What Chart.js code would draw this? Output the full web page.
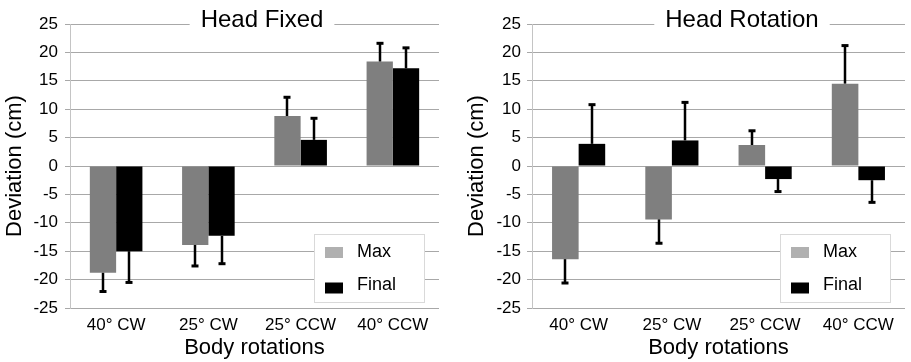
<!DOCTYPE html>
<html>
<head>
<meta charset="utf-8">
<script src="https://cdn.jsdelivr.net/npm/chart.js@4.4.1/dist/chart.umd.min.js"></script>
<style>
  html, body { margin: 0; padding: 0; background: #fff; }
  #wrap { position: relative; width: 911px; height: 362px; overflow: hidden; }
  .panel { position: absolute; top: 0; }
</style>
</head>
<body>
<div id="wrap">
  <div class="panel" style="left:0px"><canvas id="c1" width="455" height="362"></canvas></div>
  <div class="panel" style="left:455px"><canvas id="c2" width="456" height="362"></canvas></div>
</div>
<script>
// ---- Data ----
const categories = ['40° CW', '25° CW', '25° CCW', '40° CCW'];
const seriesNames = ['Max', 'Final'];
const yTickMin = -25;
const yTickMax = 25;
const yTickStep = 5;

// Head Fixed
const fixedMax = [-18.8, -13.9, 8.8, 18.4];
const fixedMaxErr = [3.3, 3.7, 3.3, 3.2];
const fixedFinal = [-15.0, -12.3, 4.6, 17.2];
const fixedFinalErr = [5.5, 4.9, 3.8, 3.6];

// Head Rotation
const rotMax = [-16.4, -9.4, 3.7, 14.5];
const rotMaxErr = [4.2, 4.2, 2.5, 6.7];
const rotFinal = [3.9, 4.5, -2.3, -2.5];
const rotFinalErr = [6.9, 6.7, 2.2, 3.9];

const FONT = '"Liberation Sans", Arial, Helvetica, sans-serif';
const MAX_COLOR = '#7f7f7f';
const MAX_LEGEND = '#b0b0b0';
const FINAL_COLOR = '#000000';

// Error bars (one-sided, away from zero)
const errorBarPlugin = {
  id: 'errorBars',
  afterDatasetsDraw(chart) {
    const ctx = chart.ctx;
    const y = chart.scales.y;
    ctx.save();
    ctx.strokeStyle = '#000';
    chart.data.datasets.forEach((ds, i) => {
      const meta = chart.getDatasetMeta(i);
      meta.data.forEach((el, j) => {
        const v = ds.data[j];
        const e = ds.errors[j];
        const end = v + (v >= 0 ? e : -e);
        const y1 = y.getPixelForValue(v);
        const y2 = y.getPixelForValue(end);
        const x = Math.round(el.x);
        ctx.lineWidth = 2.5;
        ctx.beginPath();
        ctx.moveTo(x, y1);
        ctx.lineTo(x, y2);
        ctx.stroke();
        ctx.lineWidth = 3;
        ctx.beginPath();
        ctx.moveTo(x - 3.5, y2);
        ctx.lineTo(x + 3.5, y2);
        ctx.stroke();
      });
    });
    ctx.restore();
  }
};

// Title sitting on the top gridline, and boxed legend inside plot area
const decorPlugin = {
  id: 'decor',
  afterDraw(chart, args, opts) {
    const ctx = chart.ctx;
    const area = chart.chartArea;
    ctx.save();
    // Title
    ctx.font = '24px ' + FONT;
    const w = ctx.measureText(opts.title).width;
    ctx.fillStyle = '#fff';
    ctx.fillRect(opts.titleX - w / 2 - 11, area.top - 3, w + 22, 6);
    ctx.fillStyle = '#000';
    ctx.textAlign = 'center';
    ctx.textBaseline = 'alphabetic';
    ctx.fillText(opts.title, opts.titleX, 26.5);

    // Legend
    const bw = 111, bh = 69;
    const bx = area.right - 14 - bw;
    const by = area.bottom - 5 - bh;
    ctx.fillStyle = '#fff';
    ctx.fillRect(bx, by, bw, bh);
    ctx.strokeStyle = '#d9d9d9';
    ctx.lineWidth = 1;
    ctx.strokeRect(bx + 0.5, by + 0.5, bw - 1, bh - 1);
    const swatches = [MAX_LEGEND, FINAL_COLOR];
    const swY = [13, 48.5];
    const txY = [18, 51.5];
    ctx.font = '18px ' + FONT;
    ctx.textAlign = 'left';
    ctx.textBaseline = 'middle';
    seriesNames.forEach((name, k) => {
      ctx.fillStyle = swatches[k];
      ctx.fillRect(bx + 11, by + swY[k], 18, 11);
      ctx.fillStyle = '#000';
      ctx.fillText(name, bx + 43, by + txY[k]);
    });
    ctx.restore();
  }
};

function makeChart(id, maxVals, maxErr, finalVals, finalErr, title, titleX, yWidth, rightPad, tickPad, yTitlePad) {
  return new Chart(document.getElementById(id), {
    type: 'bar',
    data: {
      labels: categories,
      datasets: [
        { label: seriesNames[0], data: maxVals, errors: maxErr, backgroundColor: MAX_COLOR,
          borderColor: '#9a9a9a', borderWidth: 0 },
        { label: seriesNames[1], data: finalVals, errors: finalErr, backgroundColor: FINAL_COLOR,
          borderWidth: 0 }
      ]
    },
    options: {
      responsive: false,
      animation: false,
      devicePixelRatio: 1,
      categoryPercentage: 0.57,
      barPercentage: 1.0,
      layout: { padding: { left: 0, right: rightPad, top: 24, bottom: 0 } },
      plugins: {
        legend: { display: false },
        tooltip: { enabled: false },
        title: { display: false },
        decor: { title: title, titleX: titleX }
      },
      scales: {
        x: {
          grid: { display: false, drawTicks: false },
          border: { display: false },
          ticks: { font: { family: FONT, size: 17 }, color: '#000', padding: 7, maxRotation: 0 },
          title: { display: true, text: 'Body rotations', font: { family: FONT, size: 22 }, color: '#000',
                   padding: { top: 0, bottom: 1 } },
          afterFit(scale) { scale.height = 54; }
        },
        y: {
          min: yTickMin,
          max: yTickMax,
          ticks: { stepSize: yTickStep, font: { family: FONT, size: 17 }, color: '#000', padding: tickPad },
          grid: { color: '#a8a8a8', tickColor: '#a8a8a8', tickLength: 5, lineWidth: 1 },
          border: { display: true, color: '#c4c4c4' },
          title: { display: true, text: 'Deviation (cm)', font: { family: FONT, size: 22 }, color: '#000',
                   padding: { top: yTitlePad, bottom: 0 } },
          afterFit(scale) { scale.width = yWidth; }
        }
      }
    },
    plugins: [errorBarPlugin, decorPlugin]
  });
}

makeChart('c1', fixedMax, fixedMaxErr, fixedFinal, fixedFinalErr, 'Head Fixed', 262, 70, 16, 7, 2);
makeChart('c2', rotMax, rotMaxErr, rotFinal, rotFinalErr, 'Head Rotation', 287, 77, 6, 6, 9);
</script>
</body>
</html>
